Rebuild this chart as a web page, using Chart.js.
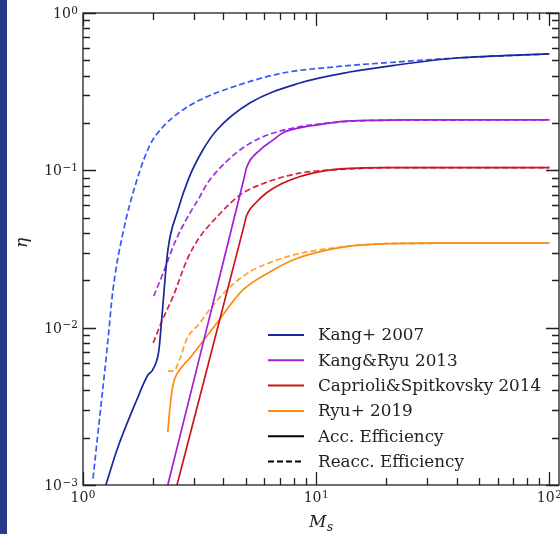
<!DOCTYPE html>
<html>
<head>
<meta charset="utf-8">
<script src="https://cdn.jsdelivr.net/npm/chart.js@4/dist/chart.umd.min.js"></script>
<style>
  body { margin: 0; background: #fff; }
  #wrap { position: relative; width: 560px; height: 534px; }
  #strip { position: absolute; left: 0; top: 0; width: 7px; height: 534px; background: #283a8c; }
</style>
</head>
<body>
<div id="wrap">
  <canvas id="chart" width="560" height="534"></canvas>
  <div id="strip"></div>
</div>
<script>
// Kang+ 2007
const kang07AccM   = [1.254, 1.398, 1.70, 1.898, 1.95, 1.99, 2.116, 2.179, 2.312, 2.553, 2.844, 3.266, 3.75, 5.19, 8.50, 13.92, 22.1, 40, 100];
const kang07AccEta = [0.001, 0.00167, 0.00347, 0.0050, 0.0052, 0.0054, 0.0072, 0.01168, 0.0311, 0.0559, 0.0893, 0.1346, 0.1804, 0.2679, 0.3589, 0.4216, 0.467, 0.5175, 0.549];
const kang07ReaccM   = [1.104, 1.159, 1.267, 1.344, 1.483, 1.703, 1.936, 2.20, 2.60, 3.17, 4.39, 7.19, 11.77, 22.1, 40, 100];
const kang07ReaccEta = [0.0011, 0.00214, 0.0072, 0.0173, 0.0399, 0.0868, 0.1448, 0.1885, 0.2348, 0.2798, 0.3386, 0.4155, 0.4535, 0.488, 0.5175, 0.549];

// Kang&Ryu 2013
const kr13AccM   = [2.31, 4.9, 5.04, 5.72, 6.5, 7.18, 8.47, 10, 11.8, 13.9, 18, 25, 100];
const kr13AccEta = [0.001, 0.0885, 0.105, 0.134, 0.155, 0.173, 0.186, 0.194, 0.201, 0.206, 0.208, 0.209, 0.209];
const kr13ReaccM   = [2.01, 2.2, 2.36, 2.48, 2.8, 3.17, 3.4, 4.13, 5.18, 6.5, 8.47, 10, 13.9, 20, 100];
const kr13ReaccEta = [0.0159, 0.022, 0.029, 0.035, 0.05, 0.068, 0.082, 0.114, 0.148, 0.172, 0.189, 0.196, 0.205, 0.208, 0.209];

// Caprioli&Spitkovsky 2014
const cs14AccM   = [2.53, 4.9, 5.04, 5.5, 6.13, 6.97, 8.47, 10, 11.8, 13.9, 20, 100];
const cs14AccEta = [0.001, 0.0442, 0.052, 0.062, 0.072, 0.081, 0.091, 0.097, 0.101, 0.103, 0.104, 0.104];
const cs14ReaccM   = [2.0, 2.18, 2.43, 2.79, 3.1, 3.75, 4.7, 6.13, 8.47, 10, 13.9, 20, 100];
const cs14ReaccEta = [0.008, 0.011, 0.0157, 0.0269, 0.036, 0.0505, 0.0695, 0.084, 0.096, 0.099, 0.102, 0.104, 0.104];

// Ryu+ 2019
const ryu19AccM   = [2.31, 2.36, 2.43, 2.6, 2.87, 3.75, 4.84, 6.33, 8, 10, 13.9, 20, 30, 100];
const ryu19AccEta = [0.00217, 0.0031, 0.0043, 0.0054, 0.0064, 0.0107, 0.0173, 0.0226, 0.027, 0.030, 0.033, 0.0342, 0.0345, 0.0345];
const ryu19ReaccM   = [2.31, 2.45, 2.6, 2.79, 3.17, 3.4, 4.13, 5.18, 6.33, 8, 10, 13.9, 20, 100];
const ryu19ReaccEta = [0.0053, 0.0053, 0.0063, 0.0085, 0.0107, 0.0124, 0.0173, 0.0226, 0.0259, 0.029, 0.031, 0.033, 0.0342, 0.0345];

// axis ticks (value, exponent shown as 10^e)
const xMajor = [1, 10, 100];
const xExp = ['0', '1', '2'];
const yMajor = [0.001, 0.01, 0.1, 1];
const yExp = ['\u22123', '\u22122', '\u22121', '0'];

const legendNames = ['Kang+ 2007', 'Kang&Ryu 2013', 'Caprioli&Spitkovsky 2014', 'Ryu+ 2019', 'Acc. Efficiency', 'Reacc. Efficiency'];
const legendColors = ['#16289c', '#a020d8', '#cc1515', '#ff8a10', '#000', '#000'];

const FONT = "'DejaVu Serif', 'Liberation Serif', serif";

function pts(xs, ys) {
    return xs.map((x, i) => ({ x: x, y: ys[i] }));
}

function line(xs, ys, color, dashed) {
    return {
        data: pts(xs, ys),
        borderColor: color,
        borderWidth: 1.7,
        borderDash: dashed ? [6, 3] : [],
        pointRadius: 0,
        fill: false,
        cubicInterpolationMode: 'monotone'
    };
}

function minorValues(lo, hi) {
    const out = [];
    for (let e = lo; e < hi; e++) {
        for (let k = 2; k <= 9; k++) out.push(k * Math.pow(10, e));
    }
    return out;
}

// "10" with a raised exponent; cy = vertical centre of the digits
function drawPow(ctx, exp, x, cy, align) {
    ctx.textBaseline = 'alphabetic';
    ctx.textAlign = 'left';
    ctx.font = '14px ' + FONT;
    const wb = ctx.measureText('10').width;
    ctx.font = '10.5px ' + FONT;
    const we = ctx.measureText(exp).width;
    const w = wb + we + 0.5;
    let x0 = align === 'right' ? x - w : x - w / 2;
    ctx.font = '14px ' + FONT;
    ctx.fillText('10', x0, cy + 5);
    ctx.font = '10.5px ' + FONT;
    ctx.fillText(exp, x0 + wb + 0.5, cy + 0.5);
}

const frameAndDecor = {
    id: 'frameAndDecor',
    afterDraw(chart) {
        const ctx = chart.ctx;
        const a = chart.chartArea;
        const xs = chart.scales.x;
        const ys = chart.scales.y;
        ctx.save();
        ctx.strokeStyle = '#222';
        ctx.lineWidth = 1.3;

        // inward ticks on all four sides
        const tick = (scale, v, len) => {
            const p = Math.round(scale.getPixelForValue(v)) + 0.5;
            ctx.beginPath();
            if (scale.axis === 'x') {
                if (p < a.left || p > a.right) return;
                ctx.moveTo(p, a.bottom); ctx.lineTo(p, a.bottom - len);
                ctx.moveTo(p, a.top); ctx.lineTo(p, a.top + len);
            } else {
                if (p < a.top - 1 || p > a.bottom + 1) return;
                ctx.moveTo(a.left, p); ctx.lineTo(a.left + len, p);
                ctx.moveTo(a.right, p); ctx.lineTo(a.right - len, p);
            }
            ctx.stroke();
        };
        xMajor.forEach(v => tick(xs, v, 13));
        minorValues(0, 2).forEach(v => tick(xs, v, 7));
        yMajor.forEach(v => tick(ys, v, 13));
        minorValues(-3, 0).forEach(v => tick(ys, v, 7));

        ctx.strokeRect(a.left, a.top, a.right - a.left, a.bottom - a.top);

        // tick labels
        ctx.fillStyle = '#222';
        xMajor.forEach((v, i) => drawPow(ctx, xExp[i], xs.getPixelForValue(v), a.bottom + 12, 'center'));
        yMajor.forEach((v, i) => drawPow(ctx, yExp[i], a.left - 5, ys.getPixelForValue(v), 'right'));

        // legend
        const lx = a.left + 185;
        let ly = a.bottom - 150;
        ctx.font = '16.8px ' + FONT;
        ctx.textBaseline = 'middle';
        ctx.textAlign = 'left';
        legendNames.forEach((name, i) => {
            ctx.strokeStyle = legendColors[i];
            ctx.lineWidth = 2;
            ctx.setLineDash(i === 5 ? [6, 3] : []);
            ctx.beginPath();
            ctx.moveTo(lx, ly); ctx.lineTo(lx + 36, ly);
            ctx.stroke();
            ctx.setLineDash([]);
            ctx.fillText(name, lx + 50, ly + 1);
            ly += 25.3;
        });

        // axis titles
        ctx.textBaseline = 'alphabetic';
        ctx.font = 'italic 17px ' + FONT;
        ctx.save();
        ctx.translate(27, (a.top + a.bottom) / 2 - 6);
        ctx.rotate(-Math.PI / 2);
        ctx.textAlign = 'center';
        ctx.fillText('\u03b7', 0, 0);
        ctx.restore();

        ctx.textAlign = 'left';
        ctx.font = 'italic 17px ' + FONT;
        ctx.fillText('M', 309, 527);
        ctx.font = 'italic 12px ' + FONT;
        ctx.fillText('s', 327, 531);
        ctx.restore();
    }
};

new Chart(document.getElementById('chart'), {
    type: 'line',
    data: {
        datasets: [
            line(kang07AccM, kang07AccEta, '#16289c', false),
            line(kang07ReaccM, kang07ReaccEta, '#3a58f5', true),
            line(kr13AccM, kr13AccEta, '#a020d8', false),
            line(kr13ReaccM, kr13ReaccEta, '#9a30e0', true),
            line(cs14AccM, cs14AccEta, '#cc1515', false),
            line(cs14ReaccM, cs14ReaccEta, '#dc2040', true),
            line(ryu19AccM, ryu19AccEta, '#ff8a10', false),
            line(ryu19ReaccM, ryu19ReaccEta, '#ffa030', true)
        ]
    },
    options: {
        responsive: false,
        animation: false,
        devicePixelRatio: 1,
        layout: {
            padding: { top: 13, right: 1, left: 0, bottom: 0 }
        },
        plugins: {
            legend: { display: false },
            tooltip: { enabled: false }
        },
        scales: {
            x: {
                type: 'logarithmic',
                min: 1,
                max: 110,
                grid: { display: false, drawTicks: false },
                border: { display: false },
                ticks: { display: false },
                afterBuildTicks: (scale) => { scale.ticks = xMajor.map(v => ({ value: v })); },
                afterFit: (scale) => {
                    scale.height = 49;
                    scale.paddingLeft = 0;
                    scale.paddingRight = 0;
                }
            },
            y: {
                type: 'logarithmic',
                min: 0.001,
                max: 1,
                grid: { display: false, drawTicks: false },
                border: { display: false },
                ticks: { display: false },
                afterBuildTicks: (scale) => { scale.ticks = yMajor.map(v => ({ value: v })); },
                afterFit: (scale) => {
                    scale.width = 83;
                    scale.paddingTop = 0;
                    scale.paddingBottom = 0;
                }
            }
        }
    },
    plugins: [frameAndDecor]
});
</script>
</body>
</html>
